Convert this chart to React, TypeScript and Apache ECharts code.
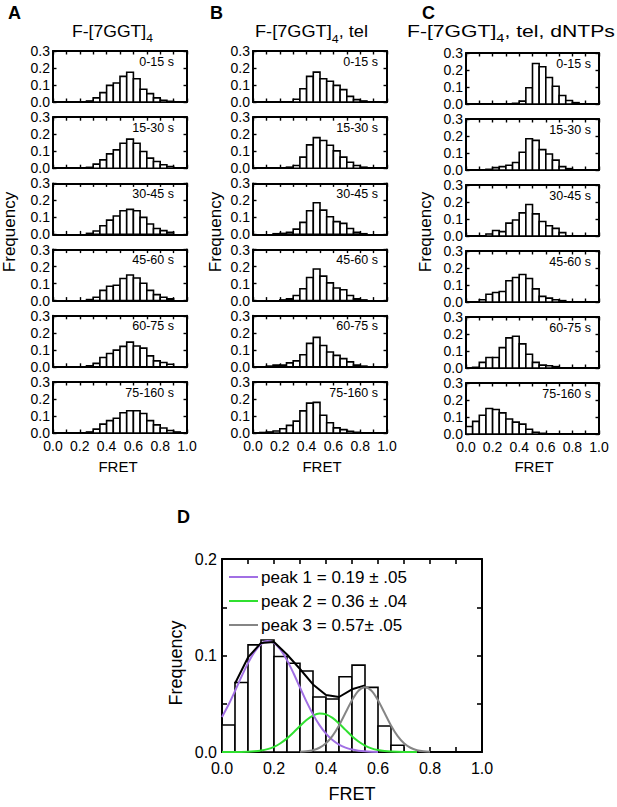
import React, { useEffect, useRef } from "react";
import * as echarts from "echarts";

// ---------- data ----------
const BIN_WIDTH = 0.05;
const timeWindows = ["0-15 s", "15-30 s", "30-45 s", "45-60 s", "60-75 s", "75-160 s"];

// Panel A: F-[7GGT]4 (20 bins of 0.05 FRET)
const a0_15 = [0, 0, 0, 0, 0, 0.006, 0.024, 0.055, 0.098, 0.112, 0.151, 0.175, 0.137, 0.075, 0.049, 0.024, 0.01, 0.004, 0, 0];
const a15_30 = [0, 0, 0, 0, 0, 0.005, 0.024, 0.049, 0.084, 0.108, 0.147, 0.171, 0.147, 0.098, 0.059, 0.039, 0.02, 0.01, 0, 0];
const a30_45 = [0, 0, 0, 0, 0, 0.006, 0.02, 0.051, 0.084, 0.108, 0.139, 0.147, 0.139, 0.1, 0.061, 0.035, 0.022, 0.012, 0, 0];
const a45_60 = [0, 0, 0, 0, 0, 0.006, 0.02, 0.06, 0.084, 0.09, 0.13, 0.151, 0.133, 0.102, 0.06, 0.035, 0.02, 0.01, 0, 0];
const a60_75 = [0, 0, 0, 0, 0, 0.006, 0.02, 0.055, 0.078, 0.098, 0.12, 0.145, 0.122, 0.11, 0.064, 0.035, 0.025, 0.015, 0, 0];
const a75_160 = [0, 0, 0, 0, 0, 0.006, 0.023, 0.052, 0.073, 0.087, 0.119, 0.131, 0.131, 0.115, 0.073, 0.048, 0.029, 0.015, 0.006, 0];

// Panel B: F-[7GGT]4, tel
const b0_15 = [0, 0, 0, 0, 0, 0, 0.016, 0.078, 0.151, 0.176, 0.137, 0.122, 0.098, 0.073, 0.033, 0.014, 0.006, 0, 0, 0];
const b15_30 = [0, 0, 0, 0, 0, 0.006, 0.016, 0.065, 0.137, 0.18, 0.163, 0.135, 0.102, 0.065, 0.035, 0.016, 0.006, 0, 0, 0];
const b30_45 = [0, 0, 0, 0.004, 0.006, 0.012, 0.031, 0.071, 0.139, 0.186, 0.143, 0.104, 0.075, 0.065, 0.035, 0.012, 0.004, 0, 0, 0];
const b45_60 = [0, 0, 0, 0, 0.004, 0.01, 0.03, 0.07, 0.136, 0.186, 0.144, 0.104, 0.074, 0.064, 0.03, 0.01, 0.004, 0, 0, 0];
const b60_75 = [0, 0, 0.004, 0.01, 0.01, 0.023, 0.035, 0.071, 0.138, 0.173, 0.125, 0.087, 0.067, 0.048, 0.029, 0.01, 0.004, 0, 0, 0];
const b75_160 = [0, 0.003, 0.006, 0.012, 0.025, 0.045, 0.07, 0.13, 0.176, 0.18, 0.104, 0.06, 0.03, 0.02, 0.01, 0.004, 0, 0, 0, 0];

// Panel C: F-[7GGT]4, tel, dNTPs
const c0_15 = [0, 0, 0, 0, 0, 0, 0, 0.004, 0.017, 0.096, 0.238, 0.219, 0.156, 0.104, 0.05, 0.021, 0.008, 0, 0, 0];
const c15_30 = [0, 0, 0, 0.004, 0.014, 0.02, 0.028, 0.044, 0.104, 0.184, 0.174, 0.12, 0.094, 0.058, 0.02, 0.008, 0, 0, 0, 0];
const c30_45 = [0, 0, 0, 0.012, 0.032, 0.026, 0.076, 0.094, 0.136, 0.185, 0.13, 0.085, 0.06, 0.045, 0.02, 0, 0, 0, 0, 0];
const c45_60 = [0, 0, 0.013, 0.046, 0.056, 0.062, 0.125, 0.144, 0.162, 0.138, 0.077, 0.033, 0.023, 0.013, 0.008, 0, 0, 0, 0, 0];
const c60_75 = [0, 0.004, 0.033, 0.062, 0.062, 0.12, 0.177, 0.187, 0.142, 0.081, 0.033, 0.017, 0.013, 0.008, 0, 0, 0, 0, 0, 0];
const c75_160 = [0.044, 0.074, 0.11, 0.15, 0.144, 0.124, 0.088, 0.07, 0.058, 0.028, 0.01, 0.004, 0, 0, 0, 0, 0, 0, 0, 0];

// Panel D: pooled histogram with Gaussian fits
const dBars = [0.028, 0.072, 0.111, 0.116, 0.099, 0.092, 0.084, 0.057, 0.055, 0.078, 0.09, 0.067, 0.027, 0.007, 0, 0, 0, 0, 0, 0];
const peak1Curve = [[0, 0.0362], [0.025, 0.0489], [0.05, 0.0632], [0.075, 0.0781], [0.1, 0.0921], [0.125, 0.1038], [0.15, 0.1118], [0.175, 0.115], [0.2, 0.113], [0.225, 0.1061], [0.25, 0.0952], [0.275, 0.0816], [0.3, 0.0668], [0.325, 0.0522], [0.35, 0.039], [0.375, 0.0279], [0.4, 0.019], [0.425, 0.0124], [0.45, 0.0077], [0.475, 0.0046], [0.5, 0.0026], [0.525, 0.0014], [0.55, 0.0007], [0.575, 0.0003], [0.6, 0.0001]];
const peak2Curve = [[0, 0], [0.05, 0.0001], [0.1, 0.0003], [0.125, 0.0007], [0.15, 0.0015], [0.175, 0.003], [0.2, 0.0054], [0.225, 0.0091], [0.25, 0.0141], [0.275, 0.0203], [0.3, 0.0269], [0.325, 0.0332], [0.35, 0.0378], [0.375, 0.0399], [0.4, 0.039], [0.425, 0.0353], [0.45, 0.0296], [0.475, 0.0229], [0.5, 0.0164], [0.525, 0.0109], [0.55, 0.0067], [0.575, 0.0038], [0.6, 0.002], [0.625, 0.001], [0.65, 0.0005], [0.7, 0.0001], [0.75, 0]];
const peak3Curve = [[0.3, 0.0003], [0.325, 0.0007], [0.35, 0.0019], [0.375, 0.0044], [0.4, 0.0091], [0.425, 0.0167], [0.45, 0.0275], [0.475, 0.0406], [0.5, 0.0536], [0.525, 0.0634], [0.55, 0.067], [0.575, 0.0634], [0.6, 0.0536], [0.625, 0.0406], [0.65, 0.0275], [0.675, 0.0167], [0.7, 0.0091], [0.725, 0.0044], [0.75, 0.0019], [0.775, 0.0007], [0.8, 0.0003]];
const sumCurve = [[0.05, 0.071], [0.1, 0.098], [0.15, 0.113], [0.2, 0.114], [0.25, 0.101], [0.3, 0.086], [0.35, 0.07], [0.4, 0.059], [0.45, 0.057], [0.5, 0.065], [0.55, 0.069]];
const legendLabels = ["peak 1 = 0.19 ± .05", "peak 2 = 0.36 ± .04", "peak 3 = 0.57± .05"];

// ---------- styling / layout ----------
const FONT = "'Liberation Sans', Arial, Helvetica, sans-serif";
const PURPLE = "#a16fe4";
const GREEN = "#30e030";
const GRAY = "#858585";

function measure(text: string, size: number, weight = "normal") {
  const ctx = document.createElement("canvas").getContext("2d") as CanvasRenderingContext2D;
  ctx.font = `${weight} ${size}px 'Liberation Sans', Arial, sans-serif`;
  return ctx.measureText(text).width;
}

function barRenderer(lw: number) {
  return (params: any, api: any) => {
    const x0 = api.value(0);
    const x1 = api.value(1);
    const v = api.value(2);
    const a = api.coord([x0, v]);
    const b = api.coord([x1, 0]);
    return {
      type: "rect",
      shape: { x: a[0], y: a[1], width: b[0] - a[0], height: b[1] - a[1] },
      style: { fill: "#fff", stroke: "#000", lineWidth: lw },
    };
  };
}

function toBins(values: number[]) {
  const out: number[][] = [];
  values.forEach((v, i) => {
    if (v > 0) out.push([i * BIN_WIDTH, (i + 1) * BIN_WIDTH, v]);
  });
  return out;
}

function txt(x: number, y: number, text: string, size: number, opts: any = {}) {
  return {
    type: "text",
    x,
    y,
    rotation: opts.rotation || 0,
    scaleX: opts.scaleX || 1,
    silent: true,
    style: {
      text,
      fontSize: size,
      fontFamily: FONT,
      fontWeight: opts.weight || "normal",
      fill: "#000",
      align: opts.align || "left",
      textAlign: opts.align || "left",
      verticalAlign: "middle",
      textVerticalAlign: "middle",
    },
  };
}

function titleEls(x0: number, targetW: number, parts: { text: string; size: number; y: number }[]) {
  const widths = parts.map((p) => measure(p.text, p.size));
  const total = widths.reduce((s, w) => s + w, 0);
  const s = targetW / total;
  let x = x0;
  return parts.map((p, i) => {
    const el = txt(x, p.y, p.text, p.size, { scaleX: s });
    x += widths[i] * s;
    return el;
  });
}

function buildOption() {
  const grid: any[] = [];
  const xAxis: any[] = [];
  const yAxis: any[] = [];
  const series: any[] = [];
  const elements: any[] = [];

  const cols = [
    { left: 53, width: 134, top0: 51, step: 66.2, timeRight: 174, data: [a0_15, a15_30, a30_45, a45_60, a60_75, a75_160], freqX: 9, fretX: 118 },
    { left: 253, width: 134, top0: 51, step: 66.2, timeRight: 378, data: [b0_15, b15_30, b30_45, b45_60, b60_75, b75_160], freqX: 215, fretX: 322 },
    { left: 466, width: 133, top0: 53, step: 66, timeRight: 591, data: [c0_15, c15_30, c30_45, c45_60, c60_75, c75_160], freqX: 425, fretX: 534 },
  ];
  const H = 51;
  const axisCol = "#000";

  cols.forEach((col) => {
    col.data.forEach((vals, r) => {
      const g = grid.length;
      const top = col.top0 + col.step * r;
      const isBottom = r === 5;
      grid.push({ left: col.left, top, width: col.width, height: H, containLabel: false, outerBoundsMode: "none" });
      const xBase = {
        gridIndex: g, type: "value", min: 0, max: 1, interval: 0.1,
        axisLine: { show: true, onZero: false, lineStyle: { color: axisCol, width: 2 } },
        axisTick: { show: true, inside: true, length: 3.5, lineStyle: { color: axisCol, width: 1.4 } },
        splitLine: { show: false },
      };
      xAxis.push({
        ...xBase, position: "bottom",
        axisLabel: {
          show: isBottom, margin: 6, color: "#000", fontSize: 14, fontFamily: FONT,
          formatter: (v: number) => (Math.round(v * 10) % 2 === 0 ? v.toFixed(1) : ""),
        },
      });
      xAxis.push({ ...xBase, position: "top", axisLabel: { show: false } });
      const yBase = {
        gridIndex: g, type: "value", min: 0, max: 0.3, interval: 0.1,
        axisLine: { show: true, onZero: false, lineStyle: { color: axisCol, width: 2 } },
        axisTick: { show: true, inside: true, length: 3.5, lineStyle: { color: axisCol, width: 1.4 } },
        splitLine: { show: false },
      };
      yAxis.push({
        ...yBase, position: "left",
        axisLabel: { show: true, margin: 3, color: "#000", fontSize: 14, fontFamily: FONT, formatter: (v: number) => v.toFixed(1) },
      });
      yAxis.push({ ...yBase, position: "right", axisLabel: { show: false } });
      series.push({
        type: "custom", coordinateSystem: "cartesian2d", xAxisIndex: 2 * g, yAxisIndex: 2 * g,
        renderItem: barRenderer(1.6), data: toBins(vals), encode: { x: [0, 1], y: 2 }, silent: true,
      });
      elements.push(txt(col.timeRight, top + 10.5, timeWindows[r], 12.5, { align: "right" }));
    });
    elements.push(txt(col.freqX, 232, "Frequency", 17, { rotation: Math.PI / 2, align: "center" }));
    elements.push(txt(col.fretX, 466, "FRET", 15, { align: "center" }));
  });

  // Panel D
  const gD = grid.length;
  grid.push({ left: 222, top: 559, width: 260, height: 193, containLabel: false, outerBoundsMode: "none" });
  const dx = {
    gridIndex: gD, type: "value", min: 0, max: 1, interval: 0.1,
    axisLine: { show: true, onZero: false, lineStyle: { color: axisCol, width: 2 } },
    axisTick: { show: true, inside: true, length: 5, lineStyle: { color: axisCol, width: 1.6 } },
    splitLine: { show: false },
  };
  xAxis.push({
    ...dx, position: "bottom",
    axisLabel: {
      show: true, margin: 8, color: "#000", fontSize: 16, fontFamily: FONT,
      formatter: (v: number) => (Math.round(v * 10) % 2 === 0 ? v.toFixed(1) : ""),
    },
  });
  xAxis.push({ ...dx, position: "top", axisLabel: { show: false } });
  const dy = {
    gridIndex: gD, type: "value", min: 0, max: 0.2, interval: 0.05,
    axisLine: { show: true, onZero: false, lineStyle: { color: axisCol, width: 2 } },
    axisTick: { show: true, inside: true, length: 5, lineStyle: { color: axisCol, width: 1.6 } },
    splitLine: { show: false },
  };
  yAxis.push({
    ...dy, position: "left",
    axisLabel: {
      show: true, margin: 5, color: "#000", fontSize: 16, fontFamily: FONT,
      formatter: (v: number) => {
        const r = Math.round(v * 100);
        return r % 10 === 0 ? (r / 100).toFixed(1) : "";
      },
    },
  });
  yAxis.push({ ...dy, position: "right", axisLabel: { show: false } });
  series.push({
    type: "custom", coordinateSystem: "cartesian2d", xAxisIndex: 2 * gD, yAxisIndex: 2 * gD,
    renderItem: barRenderer(1.6), data: toBins(dBars), encode: { x: [0, 1], y: 2 }, silent: true,
  });
  const lineSeries = (data: number[][], color: string, smooth: any) => ({
    type: "line", xAxisIndex: 2 * gD, yAxisIndex: 2 * gD, data, showSymbol: false, symbol: "none",
    smooth, lineStyle: { color, width: 2 }, silent: true, z: 3,
  });
  series.push(lineSeries(peak2Curve, GREEN, 0.3));
  series.push(lineSeries(peak1Curve, PURPLE, 0.3));
  series.push(lineSeries(sumCurve, "#000", false));
  series.push(lineSeries(peak3Curve, GRAY, 0.3));

  // Legend D
  const legColors = [PURPLE, GREEN, GRAY];
  const legY = [577, 601, 625];
  legendLabels.forEach((label, i) => {
    elements.push({ type: "line", silent: true, shape: { x1: 229, y1: legY[i], x2: 258, y2: legY[i] }, style: { stroke: legColors[i], lineWidth: 2 } });
    elements.push(txt(261, legY[i], label, 17));
  });
  elements.push(txt(175.5, 663, "Frequency", 18, { rotation: Math.PI / 2, align: "center" }));
  elements.push(txt(352, 794, "FRET", 18, { align: "center" }));

  // Panel letters
  elements.push(txt(8, 12.5, "A", 18, { weight: "bold" }));
  elements.push(txt(210, 12.5, "B", 18, { weight: "bold" }));
  elements.push(txt(422, 13.3, "C", 18, { weight: "bold" }));
  elements.push(txt(177, 517, "D", 18, { weight: "bold" }));

  // Titles
  const mainY = 31.5;
  const subY = 38.5;
  elements.push(...titleEls(72, 81, [
    { text: "F-[7GGT]", size: 16, y: mainY },
    { text: "4", size: 11, y: subY },
  ]));
  elements.push(...titleEls(255, 113, [
    { text: "F-[7GGT]", size: 16, y: mainY },
    { text: "4", size: 11, y: subY },
    { text: ", tel", size: 16, y: mainY },
  ]));
  elements.push(...titleEls(407, 208, [
    { text: "F-[7GGT]", size: 16, y: mainY },
    { text: "4", size: 11, y: subY },
    { text: ", tel, dNTPs", size: 16, y: mainY },
  ]));

  return {
    animation: false,
    backgroundColor: "#fff",
    grid,
    xAxis,
    yAxis,
    series,
    graphic: { elements },
  };
}

export default function App() {
  const ref = useRef<HTMLDivElement>(null);
  useEffect(() => {
    document.body.style.margin = "0";
    if (!ref.current) return;
    const chart = echarts.init(ref.current, undefined, { renderer: "svg" });
    chart.setOption(buildOption() as any);
    return () => chart.dispose();
  }, []);
  return <div ref={ref} style={{ width: 617, height: 807 }} />;
}
